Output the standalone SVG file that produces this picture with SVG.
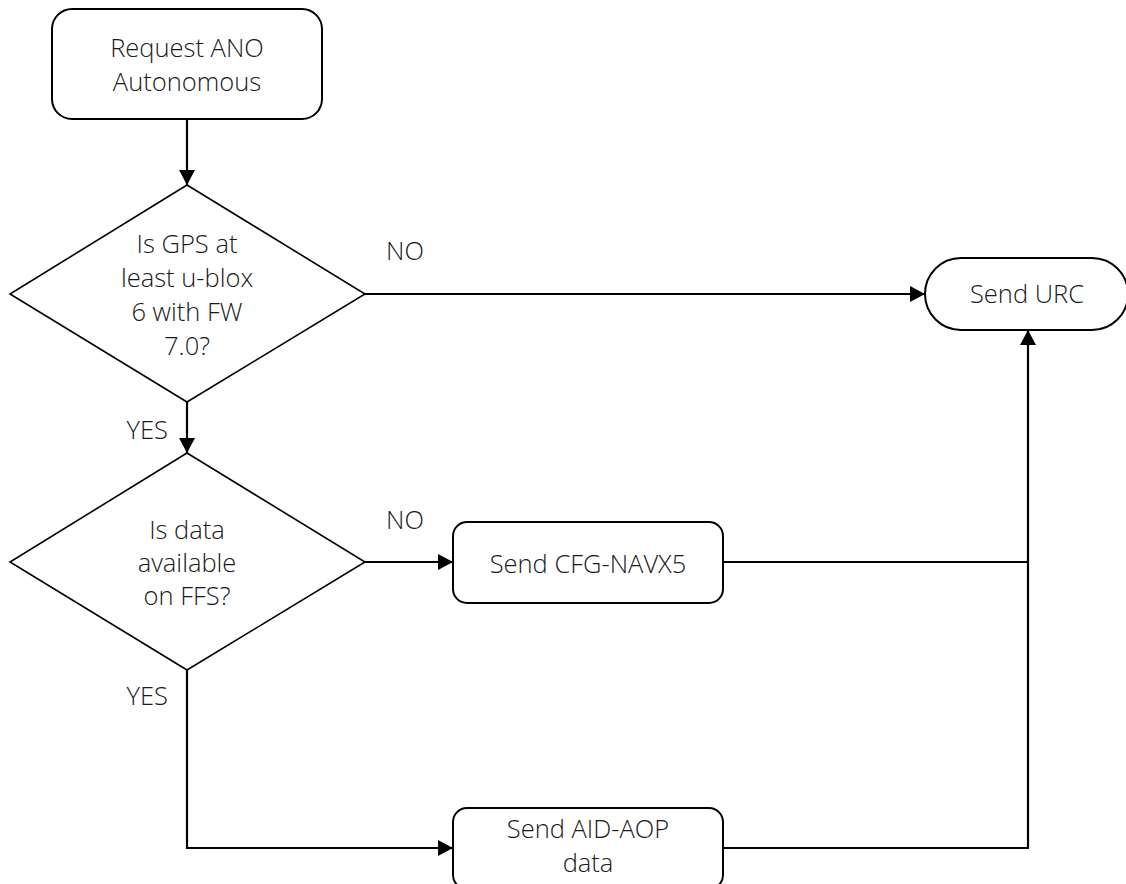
<svg xmlns="http://www.w3.org/2000/svg" width="1126" height="884" viewBox="0 0 1126 884">
  <style>
    text { font-family: "Open Sans", "Noto Sans", "Liberation Sans", sans-serif; font-size: 25.5px; font-weight: 300; fill: #1a1a1a; }
    .c { text-anchor: middle; }
    .e { text-anchor: end; }
    .shape { fill: #ffffff; stroke: #000000; stroke-width: 2; }
    .diam { fill: #ffffff; stroke: #000000; stroke-width: 1.6; }
    .wire { fill: none; stroke: #000000; stroke-width: 2.2; }
  </style>
  <defs>
    <marker id="arrow" viewBox="0 0 15 16" refX="15" refY="8" markerWidth="15" markerHeight="16" markerUnits="userSpaceOnUse" orient="auto">
      <path d="M0,0 L15,8 L0,16 Z" fill="#000000"/>
    </marker>
  </defs>
  <rect width="1126" height="884" fill="#ffffff"/>

  <g id="connectors">
    <path class="wire" d="M187,119 V185" marker-end="url(#arrow)"/>
    <path class="wire" d="M365,294 H925" marker-end="url(#arrow)"/>
    <path class="wire" d="M187,402 V453" marker-end="url(#arrow)"/>
    <path class="wire" d="M365,562 H453" marker-end="url(#arrow)"/>
    <path class="wire" d="M187,670 V848 H453" marker-end="url(#arrow)"/>
    <path class="wire" d="M723,562 H1028"/>
    <path class="wire" d="M723,848 H1028 V330" marker-end="url(#arrow)"/>
    <text x="386" y="260">NO</text>
    <text x="168" y="439" class="e">YES</text>
    <text x="386" y="529">NO</text>
    <text x="168" y="705" class="e">YES</text>
  </g>

  <g id="request-ano">
    <rect class="shape" x="52" y="9" width="270" height="110" rx="20" ry="20"/>
    <text x="187" y="57" class="c">Request ANO</text>
    <text x="187" y="91" class="c">Autonomous</text>
  </g>

  <g id="check-gps">
    <polygon class="diam" points="187,185 365,294 187,402 10,294"/>
    <text x="187" y="253" class="c">Is GPS at</text>
    <text x="187" y="287" class="c">least u-blox</text>
    <text x="187" y="321" class="c">6 with FW</text>
    <text x="187" y="355" class="c">7.0?</text>
  </g>

  <g id="check-ffs">
    <polygon class="diam" points="187,453 365,562 187,670 10,562"/>
    <text x="187" y="539" class="c">Is data</text>
    <text x="187" y="572" class="c">available</text>
    <text x="187" y="605" class="c">on FFS?</text>
  </g>

  <g id="send-urc">
    <rect class="shape" x="925" y="258" width="203" height="72" rx="36" ry="36"/>
    <text x="1027" y="303" class="c">Send URC</text>
  </g>

  <g id="send-cfg-navx5">
    <rect class="shape" x="453" y="522" width="270" height="81" rx="14" ry="14"/>
    <text x="588" y="573" class="c">Send CFG-NAVX5</text>
  </g>

  <g id="send-aid-aop">
    <rect class="shape" x="453" y="808" width="270" height="81" rx="14" ry="14"/>
    <text x="588" y="838" class="c">Send AID-AOP</text>
    <text x="588" y="872" class="c">data</text>
  </g>
</svg>
